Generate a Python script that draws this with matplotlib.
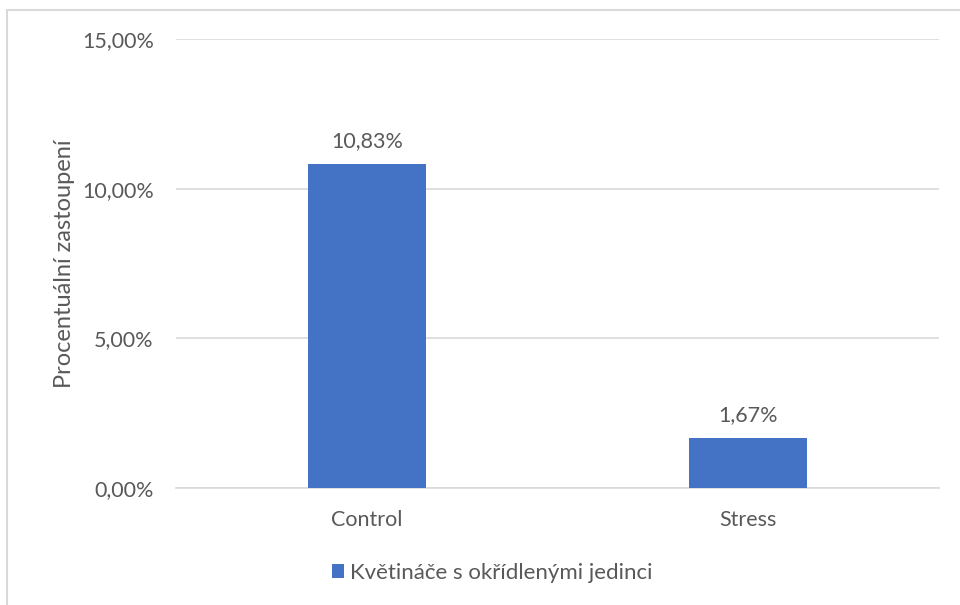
import matplotlib.pyplot as plt
from matplotlib.patches import Rectangle
from matplotlib.ticker import FuncFormatter

categories = ['Control', 'Stress']
values = [10.83, 1.67]
series_name = 'Květináče s okřídlenými jedinci'
yticks = [0, 5, 10, 15]

text_color = '#595959'
grid_color = '#d9d9d9'
bar_color = '#4472C4'

plt.rcParams['font.family'] = ['Lato', 'DejaVu Sans']

fig = plt.figure(figsize=(9.6, 6.05), dpi=100)
ax = fig.add_axes([176 / 960, 1 - 488 / 605, (939 - 176) / 960, (488 - 39) / 605])

x = range(len(categories))
bars = ax.bar(x, values, width=0.31, color=bar_color, zorder=3, label=series_name)

ax.set_xlim(-0.5, len(categories) - 0.5)
ax.set_ylim(0, 15)
ax.set_yticks(yticks)
ax.yaxis.set_major_formatter(FuncFormatter(lambda v, p: f'{v:.2f}%'.replace('.', ',')))
ax.set_xticks(list(x))
ax.set_xticklabels(categories)

ax.grid(axis='y', color=grid_color, linewidth=1.2, zorder=0)
for s in ['top', 'right', 'left']:
    ax.spines[s].set_visible(False)
ax.spines['bottom'].set_color(grid_color)
ax.spines['bottom'].set_linewidth(1.2)
ax.tick_params(axis='both', length=0, labelsize=15.5, colors=text_color)
ax.tick_params(axis='y', pad=16)
ax.tick_params(axis='x', pad=16)

for b, v in zip(bars, values):
    ax.annotate(f'{v:.2f}%'.replace('.', ','), (b.get_x() + b.get_width() / 2, v),
                xytext=(0, 9), textcoords='offset points', ha='center', va='bottom',
                fontsize=15.5, color=text_color)

ax.set_ylabel('Procentuální zastoupení', fontsize=17, color=text_color, labelpad=5)

fig.legend(handles=[bars], labels=[series_name], loc='center', bbox_to_anchor=(492 / 960, 1 - 573 / 605),
           frameon=False, fontsize=16, labelcolor=text_color, handlelength=0.55, handleheight=0.55,
           handletextpad=0.25)

# light chart-area frame, running off the right and bottom edges
fig.patches.append(Rectangle((7 / 960, -0.1), 2, 1 - 10 / 605 + 0.1, transform=fig.transFigure,
                             fill=False, edgecolor=grid_color, linewidth=1.5))

fig.savefig('out.png', dpi=100)
